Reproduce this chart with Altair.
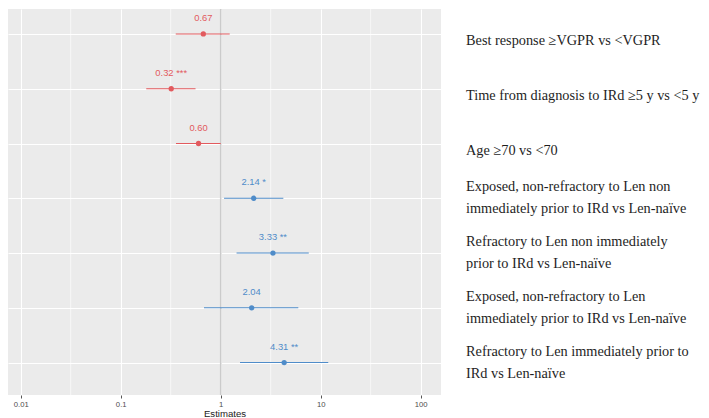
import altair as alt
import pandas as pd

labels = [
    "Best response \u2265VGPR vs <VGPR",
    "Time from diagnosis to IRd \u22655 y vs <5 y",
    "Age \u226570 vs <70",
    "Exposed, non-refractory to Len non\nimmediately prior to IRd vs Len-na\u00efve",
    "Refractory to Len non immediately\nprior to IRd vs Len-na\u00efve",
    "Exposed, non-refractory to Len\nimmediately prior to IRd vs Len-na\u00efve",
    "Refractory to Len immediately prior to\nIRd vs Len-na\u00efve",
]
row_ids = ["r1", "r2", "r3", "r4", "r5", "r6", "r7"]
estimates = [0.67, 0.32, 0.60, 2.14, 3.33, 2.04, 4.31]
lower = [0.355, 0.18, 0.357, 1.08, 1.44, 0.68, 1.56]
upper = [1.23, 0.56, 1.00, 4.23, 7.6, 5.97, 11.9]
stars = ["", "***", "", "*", "**", "", "**"]
direction = ["lower", "lower", "lower", "higher", "higher", "higher", "higher"]
multiline = [False, False, False, True, True, True, True]

major_ticks = [0.01, 0.1, 1, 10, 100]
minor_ticks = [0.0316, 0.316, 3.16, 31.6]
ref_line = [1]

df = pd.DataFrame({
    "row": row_ids,
    "label": labels,
    "est": estimates,
    "lo": lower,
    "hi": upper,
    "txt": [f"{e:.2f} {s}".strip() for e, s in zip(estimates, stars)],
    "dir": direction,
    "multi": multiline,
})

W, H = 433, 386
xscale = alt.Scale(type="log", domain=[0.00746, 159.6], nice=False)
yscale = alt.Scale(type="point", domain=row_ids, padding=0.524, align=0.435)

line_col = alt.Scale(domain=["lower", "higher"], range=["#e25a5e", "#4f8cc9"])
pt_col = alt.Scale(domain=["lower", "higher"], range=["#f0141c", "#2f72b8"])
txt_col = alt.Scale(domain=["lower", "higher"], range=["#ea4a50", "#4f8fc8"])

base = alt.Chart(df)

minor = alt.Chart(pd.DataFrame({"v": minor_ticks})).mark_rule(
    color="white", strokeWidth=0.6
).encode(x=alt.X("v:Q", scale=xscale))

vline = alt.Chart(pd.DataFrame({"v": ref_line})).mark_rule(
    color="#cbcbcb", strokeWidth=1.6
).encode(x=alt.X("v:Q", scale=xscale))

bars = base.mark_rule(strokeWidth=1.1).encode(
    x=alt.X(
        "lo:Q",
        scale=xscale,
        axis=alt.Axis(
            values=major_ticks,
            format="~g",
            title="Estimates",
            grid=True,
            gridColor="white",
            gridWidth=1.1,
            domain=False,
            ticks=True,
            tickColor="#555555",
            tickSize=3,
            labelColor="#4d4d4d",
            labelFontSize=7.7,
            labelFont="Liberation Sans",
            labelPadding=2,
            titleFont="Liberation Sans",
            titleFontSize=9.6,
            titleFontWeight="normal",
            titleColor="#222222",
            titlePadding=1,
        ),
    ),
    x2="hi:Q",
    y=alt.Y(
        "row:N",
        scale=yscale,
        axis=alt.Axis(
            labels=False, ticks=False, domain=False, title=None,
            grid=True, gridColor="white", gridWidth=1.1,
        ),
    ),
    color=alt.Color("dir:N", scale=line_col, legend=None),
)

points = base.mark_circle(size=28, opacity=1).encode(
    x=alt.X("est:Q", scale=xscale),
    y=alt.Y("row:N", scale=yscale),
    color=alt.Color("dir:N", scale=pt_col, legend=None),
)

est_text = base.mark_text(
    dy=-16, fontSize=9.4, font="Liberation Sans", baseline="middle", align="center"
).encode(
    x=alt.X("est:Q", scale=xscale),
    y=alt.Y("row:N", scale=yscale),
    text="txt:N",
    color=alt.Color("dir:N", scale=txt_col, legend=None),
)

plot = alt.layer(minor, vline, bars, points, est_text).properties(width=W, height=H)

single = alt.Chart(df).transform_filter("!datum.multi").mark_text(
    align="left", baseline="middle", dy=7, fontSize=14.3,
    font="Liberation Serif", color="#1e1e1e",
).encode(
    x=alt.value(0),
    y=alt.Y("row:N", scale=yscale, axis=None),
    text="label:N",
)
multi = alt.Chart(df).transform_filter("datum.multi").mark_text(
    align="left", baseline="middle", dy=-11, fontSize=14.3, lineHeight=22,
    lineBreak="\n", font="Liberation Serif", color="#1e1e1e",
).encode(
    x=alt.value(0),
    y=alt.Y("row:N", scale=yscale, axis=None),
    text="label:N",
)
side = alt.layer(single, multi).properties(
    width=234, height=H, view=alt.ViewBackground(fill="white", stroke="white", strokeWidth=0)
)

chart = alt.hconcat(plot, side, spacing=25).properties(
    padding=0,
    background="white",
).configure_view(fill="#ebebeb", stroke=None)

chart.save("out.html", embed_options={"renderer": "svg", "actions": False})
